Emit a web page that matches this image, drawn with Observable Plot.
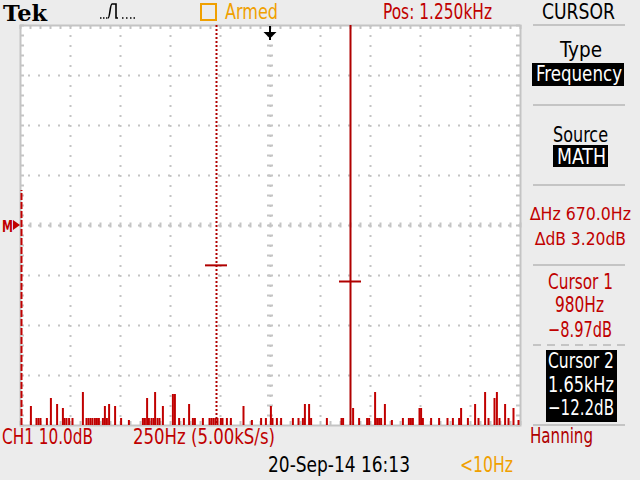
<!DOCTYPE html>
<html>
<head>
<meta charset="utf-8">
<script src="https://cdn.jsdelivr.net/npm/d3@7"></script>
<script src="https://cdn.jsdelivr.net/npm/@observablehq/plot@0.6"></script>
<style>
  html, body { margin: 0; padding: 0; background: #ececec; }
  #chart { position: relative; width: 640px; height: 480px; }
</style>
</head>
<body>
<div id="chart"></div>
<script>
// ---------- data ----------
const spectrumFreqs = [52,80,90,100,132,152,183,212,220,230,243,260,312,330,340,350,360,372,382,392,412,422,432,443,473,503,542,612,622,633,642,655,665,673,685,695,712,762,772,793,817,843,862,872,912,945,955,965,975,985,1002,1010,1032,1052,1115,1157,1203,1227,1252,1260,1282,1303,1362,1390,1412,1422,1443,1453,1532,1605,1613,1663,1693,1733,1743,1773,1783,1793,1803,1822,1857,1912,1942,1952,1962,1995,2003,2012,2053,2093,2135,2162,2193,2203,2237,2273,2290,2323,2340,2370,2382,2395,2423,2440,2465,2490];
const spectrumLevels = [-37.2,-39.6,-39.6,-39.6,-39.6,-35.6,-36.8,-37.6,-39.6,-39.6,-39.6,-39.6,-34.4,-39.6,-39.6,-39.6,-39.6,-39.6,-39.6,-39.6,-39.6,-37.2,-39.6,-36.8,-37.2,-39.6,-40.0,-39.6,-39.6,-35.6,-39.6,-39.6,-39.6,-34.4,-39.6,-39.6,-37.2,-34.8,-34.8,-39.6,-39.6,-36.8,-39.6,-39.6,-39.6,-39.6,-39.6,-39.6,-39.6,-39.6,-39.6,-39.6,-39.6,-39.6,-37.2,-40.0,-39.6,-39.6,-37.2,-39.6,-39.6,-39.6,-39.6,-39.6,-39.6,-36.8,-36.8,-39.6,-39.6,-39.6,-39.6,-37.6,-39.6,-39.6,-39.6,-34.4,-39.6,-39.6,-39.6,-36.8,-40.0,-39.6,-39.6,-39.6,-39.6,-37.6,-37.6,-39.6,-39.6,-39.6,-39.6,-39.6,-39.6,-37.6,-39.6,-36.8,-39.6,-34.4,-39.6,-35.6,-34.4,-39.6,-36.8,-39.6,-37.6,-40.0];
const dcFreq = [0];
const dcLevel = [6];
const cursorFreqs = [980, 1650];
const cursorLevels = [-8.97, -12.2];
const cursorStyles = ["dotted", "solid"];

// scale extents and graticule ticks
const freqDomain = [0, 2500];
const dbDomain = [-41, 39];
const majorFreqTicks = [250, 500, 750, 1000, 1250, 1500, 1750, 2000, 2250];
const majorDbTicks = [-31, -21, -11, -1, 9, 19, 29];
const centerFreq = 1250;
const centerDb = -1;
const minorFreqTicks = d3.range(0, 2501, 50);
const minorDbTicks = d3.range(-41, 39.1, 2);

// readout texts
const topTexts = ["Tek", "Armed", "Pos: 1.250kHz", "CURSOR"];
const panelTexts = ["Type", "Frequency", "Source", "MATH", "\u2206Hz 670.0Hz", "\u2206dB 3.20dB", "Cursor 1", "980Hz", "\u22128.97dB", "Cursor 2", "1.65kHz", "\u221212.2dB", "Hanning"];
const bottomTexts = ["CH1 10.0dB", "250Hz (5.00kS/s)", "20-Sep-14 16:13", "<10Hz"];

// ---------- styles ----------
const RED = "#c00000", CUR = "#b00000", GRID = "#c4c4c4", ORANGE = "#f0a000";
const tickHz = 20, tickDb = 0.8;           // border tick length (4px)
const centerHalfHz = 15, centerHalfDb = 0.5;
const crossHalfHz = 55;

const spectrum = spectrumFreqs.map((f, i) => ({f, db: spectrumLevels[i]}));
const dc = dcFreq.map((f, i) => ({f, db: dcLevel[i]}));
const cursors = cursorFreqs.map((f, i) => ({f, db: cursorLevels[i], style: cursorStyles[i]}));

const chart = Plot.plot({
  width: 640, height: 480,
  marginLeft: 20, marginRight: 120, marginTop: 25, marginBottom: 55,
  x: {domain: freqDomain, axis: null},
  y: {domain: dbDomain, axis: null},
  style: {background: "#ececec", overflow: "visible"},
  marks: [
    Plot.frame({fill: "white", stroke: null}),
    // dotted major grid
    Plot.ruleX(majorFreqTicks, {x: d => d, stroke: GRID, strokeWidth: 2, strokeDasharray: "2,8"}),
    Plot.ruleY(majorDbTicks, {y: d => d, stroke: GRID, strokeWidth: 2, strokeDasharray: "2,8", strokeDashoffset: -8}),
    // center axes ticks
    Plot.ruleY(minorDbTicks, {y: d => d, x1: centerFreq - centerHalfHz, x2: centerFreq + centerHalfHz, stroke: GRID, strokeWidth: 2}),
    Plot.ruleX(minorFreqTicks, {x: d => d, y1: centerDb - centerHalfDb, y2: centerDb + centerHalfDb, stroke: GRID, strokeWidth: 2}),
    // border ticks
    Plot.ruleX(minorFreqTicks, {x: d => d, y1: dbDomain[1], y2: dbDomain[1] - tickDb, stroke: GRID, strokeWidth: 2}),
    Plot.ruleX(minorFreqTicks, {x: d => d, y1: dbDomain[0], y2: dbDomain[0] + tickDb, stroke: GRID, strokeWidth: 2}),
    Plot.ruleY(minorDbTicks, {y: d => d, x1: freqDomain[0], x2: freqDomain[0] + tickHz, stroke: GRID, strokeWidth: 2}),
    Plot.ruleY(minorDbTicks, {y: d => d, x1: freqDomain[1], x2: freqDomain[1] - tickHz, stroke: GRID, strokeWidth: 2}),
    Plot.frame({stroke: GRID, strokeWidth: 2}),
    // spectrum
    Plot.ruleX(spectrum, {x: "f", y1: dbDomain[0], y2: "db", stroke: RED, strokeWidth: 2}),
    Plot.ruleX(dc, {x: "f", y1: dbDomain[0], y2: "db", stroke: RED, strokeWidth: 2, strokeDasharray: "7,2", dx: 1}),
    // cursors
    Plot.ruleX(cursors.filter(d => d.style === "dotted"), {x: "f", stroke: CUR, strokeWidth: 2, strokeDasharray: "2,2"}),
    Plot.ruleX(cursors.filter(d => d.style === "solid"), {x: "f", stroke: CUR, strokeWidth: 2}),
    Plot.ruleY(cursors, {y: "db", x1: d => d.f - crossHalfHz, x2: d => d.f + crossHalfHz, stroke: CUR, strokeWidth: 2})
  ]
});
document.getElementById("chart").appendChild(chart);

// ---------- screen furniture / readouts ----------
const svg = d3.select(chart);
const FONT = "'DejaVu Sans Condensed', 'Liberation Sans Narrow', 'DejaVu Sans', sans-serif";
const FS = 21;
function txt(s, x, y, w, color, opts = {}) {
  svg.append("text")
    .attr("x", x).attr("y", y)
    .attr("text-anchor", "start")
    .attr("fill", color)
    .attr("font-family", opts.family || FONT)
    .attr("font-size", opts.size || FS)
    .attr("font-weight", opts.weight || "normal")
    .attr("textLength", w)
    .attr("lengthAdjust", "spacingAndGlyphs")
    .text(s);
}
function line(x1, y1, x2, y2, color, w, dash) {
  const l = svg.append("line").attr("x1", x1).attr("y1", y1).attr("x2", x2).attr("y2", y2)
    .attr("stroke", color).attr("stroke-width", w);
  if (dash) l.attr("stroke-dasharray", dash);
}
function rect(x, y, w, h, fill, stroke) {
  svg.append("rect").attr("x", x).attr("y", y).attr("width", w).attr("height", h)
    .attr("fill", fill || "none").attr("stroke", stroke || "none").attr("stroke-width", 2);
}

// top bar
txt(topTexts[0], 3, 21, 44, "#000", {family: "'DejaVu Serif', 'Liberation Serif', serif", size: 22, weight: "bold"});
svg.append("path").attr("d", "M100,18h1.5M103,18h1.5M106,18h1.5M108,18C110,18 110,4 112,4H116V18H118M122,18h1.5M126,18h1.5M130,18h1.5M133.5,18h1.5")
  .attr("fill", "none").attr("stroke", "#000").attr("stroke-width", 1.6);
rect(201, 4, 15, 16, null, ORANGE);
txt(topTexts[1], 225, 19, 53, ORANGE);
txt(topTexts[2], 383, 19, 109, RED);
txt(topTexts[3], 542, 19, 73, "#000");

// trigger position arrow and M marker
line(270, 26, 270, 40, "#000", 2);
svg.append("path").attr("d", "M263.5,32L276.5,32L270,38.5Z").attr("fill", "#000");
txt("M", 2, 232, 11, RED, {size: 15, weight: "bold"});
svg.append("path").attr("d", "M13,220L20,225L13,230Z").attr("fill", RED);

// right panel
[25, 105, 185, 265, 425].forEach(y => line(533, y, 625, y, GRID, 2));
line(533, 345, 625, 345, GRID, 2, "8,6");
txt(panelTexts[0], 560, 57, 42, "#000");
rect(532, 63, 92, 23, "#000");
txt(panelTexts[1], 536, 81, 86, "#fff");
txt(panelTexts[2], 553, 142, 55, "#000");
rect(553, 145, 55, 22, "#000");
txt(panelTexts[3], 557, 164, 49, "#fff");
txt(panelTexts[4], 530, 220, 101, RED, {size: 18});
txt(panelTexts[5], 535, 245, 91, RED, {size: 18});
txt(panelTexts[6], 548, 289, 65, RED);
txt(panelTexts[7], 555, 312, 49, RED);
txt(panelTexts[8], 548, 337, 64, RED);
rect(546, 350, 71, 72, "#000");
txt(panelTexts[9], 548, 368, 66, "#fff");
txt(panelTexts[10], 548, 392, 66, "#fff");
txt(panelTexts[11], 548, 415, 66, "#fff");
txt(panelTexts[12], 530, 443, 63, CUR);

// bottom bar
txt(bottomTexts[0], 2, 444, 91, RED);
txt(bottomTexts[1], 133, 444, 142, RED);
txt(bottomTexts[2], 268, 472, 142, "#000");
txt(bottomTexts[3], 460, 472, 53, ORANGE);
</script>
</body>
</html>
